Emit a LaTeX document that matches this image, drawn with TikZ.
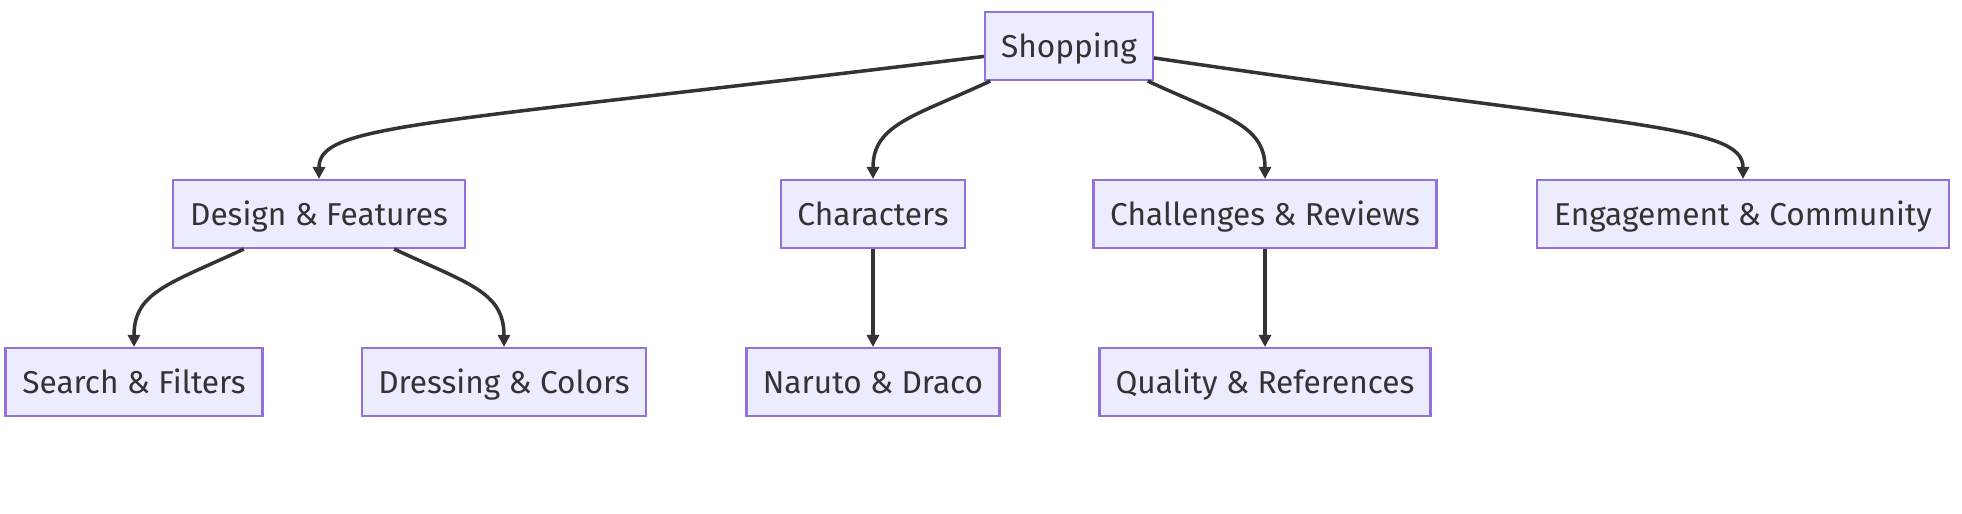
\documentclass[tikz,border=0pt]{standalone}
\usepackage{fontspec}
\setmainfont{Fira Sans}
\usepackage{xcolor}
\usepackage{tikz}
\usetikzlibrary{arrows.meta,positioning,calc}
\definecolor{mmdfill}{HTML}{ECECFF}
\definecolor{mmdborder}{HTML}{9370DB}
\definecolor{mmdline}{HTML}{333333}

\begin{document}
\begin{tikzpicture}[x=0.02cm,y=0.02cm,
  box/.style={draw=mmdborder,fill=mmdfill,line width=1.2pt,text=mmdline,
    font=\fontsize{18}{22}\selectfont,text height=17pt,text depth=3.5pt,
    minimum height=1.36cm,inner sep=0pt},
  link/.style={draw=mmdline,line width=2pt,-{Triangle[length=0.24cm,width=0.24cm]}}]
\useasboundingbox (0,0) rectangle (1962,514);
% niveau 1
\node[box,minimum width=3.36cm] (shop) at (1069,468) {Shopping};
% niveau 2
\node[box,minimum width=5.84cm] (design) at (319,300) {Design \& Features};
\node[box,minimum width=3.68cm] (chars) at (873,300) {Characters};
\node[box,minimum width=6.86cm] (chall) at (1265,300) {Challenges \& Reviews};
\node[box,minimum width=8.24cm] (engage) at (1743,300) {Engagement \& Community};
% niveau 3
\node[box,minimum width=5.14cm] (search) at (134,132) {Search \& Filters};
\node[box,minimum width=5.68cm] (dress) at (504,132) {Dressing \& Colors};
\node[box,minimum width=5.06cm] (naruto) at (873,132) {Naruto \& Draco};
\node[box,minimum width=6.62cm] (quality) at (1265,132) {Quality \& References};
% liens
\draw[link] (shop.187) .. controls +(-565,-69) and +(0,55) .. (design.north);
\draw[link] (shop.204) .. controls +(-75,-35) and +(0,55) .. (chars.north);
\draw[link] (shop.-24) .. controls +(75,-35) and +(0,55) .. (chall.north);
\draw[link] (shop.-8) .. controls +(475,-70) and +(0,55) .. (engage.north);
\draw[link] (design.205) .. controls +(-75,-35) and +(0,55) .. (search.north);
\draw[link] (design.-25) .. controls +(75,-35) and +(0,55) .. (dress.north);
\draw[link] (chars) -- (naruto);
\draw[link] (chall) -- (quality);
\end{tikzpicture}
\end{document}
